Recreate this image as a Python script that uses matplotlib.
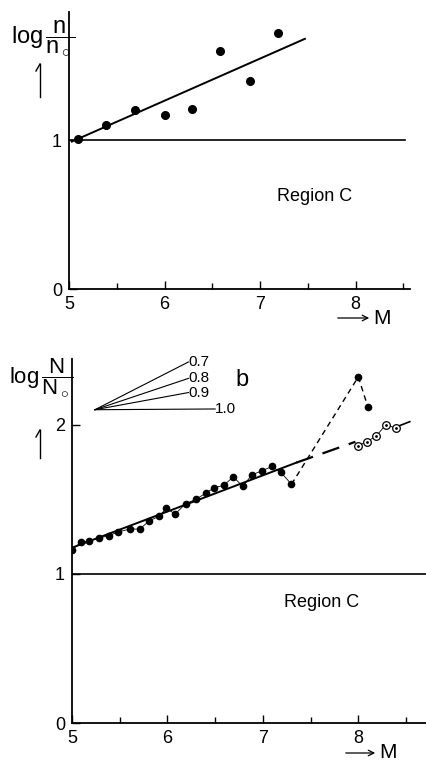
import matplotlib
matplotlib.use('Agg')
import matplotlib.pyplot as plt
from matplotlib.lines import Line2D

plt.rcParams['font.family'] = ['Liberation Sans', 'DejaVu Sans']
plt.rcParams['mathtext.fontset'] = 'custom'
plt.rcParams['mathtext.rm'] = 'Liberation Sans'
plt.rcParams['mathtext.it'] = 'Liberation Sans'

# ---- panel a (upper): log n/n0 against M
m_top = [5.09, 5.39, 5.69, 6.00, 6.29, 6.58, 6.89, 7.19]
n_top = [1.01, 1.10, 1.20, 1.17, 1.21, 1.60, 1.40, 1.72]
fit_top_m = [5.03, 7.47]
fit_top_n = [0.99, 1.68]

# ---- panel b (lower): log N/N0 against M
m_bot = [5.00, 5.09, 5.18, 5.28, 5.385, 5.48, 5.605, 5.71, 5.81, 5.91, 5.99, 6.08,
         6.19, 6.30, 6.40, 6.49, 6.59, 6.69, 6.79, 6.885, 6.99, 7.095, 7.19, 7.30]
N_bot = [1.16, 1.21, 1.22, 1.24, 1.255, 1.28, 1.30, 1.30, 1.355, 1.385, 1.44, 1.40,
         1.47, 1.50, 1.54, 1.577, 1.593, 1.65, 1.586, 1.664, 1.69, 1.72, 1.68, 1.60]
m_jump = [7.30, 8.00, 8.10]
N_jump = [1.60, 2.32, 2.12]
m_open = [8.00, 8.09, 8.19, 8.29, 8.40]
N_open = [1.86, 1.885, 1.925, 2.00, 1.975]
fit_solid_m = [5.00, 7.35]
fit_solid_N = [1.175, 1.745]
fit_dash_m = [7.35, 7.97]
fit_dash_N = [1.745, 1.885]
fit_tail_m = [8.40, 8.54]
fit_tail_N = [1.985, 2.02]

# reference slopes b
fan_labels = ['0.7', '0.8', '0.9', '1.0']
fan_origin = (5.24, 2.10)
fan_end_m = [6.22, 6.22, 6.22, 6.50]
fan_end_N = [2.42, 2.31, 2.215, 2.105]

W, H = 427, 761
fig = plt.figure(figsize=(W / 100, H / 100), dpi=100)


def fx(px):
    return px / W


def fy(py):
    return 1 - py / H


def setup(ax, xmax, ymax, yticks):
    ax.set_xlim(5, xmax)
    ax.set_ylim(0, ymax)
    for s in ['top', 'right']:
        ax.spines[s].set_visible(False)
    for s in ['left', 'bottom']:
        ax.spines[s].set_linewidth(1.3)
    ax.set_xticks([5, 6, 7, 8])
    ax.set_xticks([5.5, 6.5, 7.5, 8.5], minor=True)
    ax.set_yticks(yticks)
    ax.tick_params(axis='both', which='major', direction='in', length=6, width=1,
                   labelsize=13, pad=5)
    ax.tick_params(axis='x', which='minor', direction='in', length=4, width=1)
    ax.patch.set_alpha(0)


# upper panel
ax1 = fig.add_axes([fx(69), fy(289), fx(410) - fx(69), fy(12) - fy(289)])
setup(ax1, 8.57, 1.86, [0, 1])
ax1.plot([5, 8.52], [1, 1], color='black', lw=1.2)
ax1.plot(fit_top_m, fit_top_n, color='black', lw=1.4)
ax1.plot(m_top, n_top, 'o', color='black', ms=5.5)
ax1.text(7.57, 0.62, 'Region C', fontsize=13, ha='center', va='center')

# lower panel
ax2 = fig.add_axes([fx(72), fy(723), fx(427) - fx(72), fy(359) - fy(723)])
setup(ax2, 8.72, 2.44, [0, 1, 2])
ax2.plot([5, 8.72], [1, 1], color='black', lw=1.2)
ax2.plot(fit_solid_m, fit_solid_N, color='black', lw=1.4)
ax2.plot(fit_dash_m, fit_dash_N, color='black', lw=1.6, dashes=(8, 4.5))
ax2.plot(fit_tail_m, fit_tail_N, color='black', lw=1.2)
ax2.plot(m_bot, N_bot, '-', color='black', lw=0.6)
ax2.plot(m_bot, N_bot, 'o', color='black', ms=4.5)
ax2.plot(m_jump, N_jump, color='black', lw=1.0, dashes=(4, 3))
ax2.plot(m_jump[1:], N_jump[1:], 'o', color='black', ms=4.5)
ax2.plot(m_open, N_open, '-', color='black', lw=0.6)
ax2.plot(m_open, N_open, 'o', mfc='white', mec='black', ms=5.5, mew=0.9)
ax2.plot(m_open, N_open, '.', color='black', ms=2)
for lab, xe, ye in zip(fan_labels, fan_end_m, fan_end_N):
    ax2.plot([fan_origin[0], xe], [fan_origin[1], ye], color='black', lw=0.8)
    ax2.text(xe, ye, lab, fontsize=11, ha='left', va='center')
ax2.text(6.71, 2.30, 'b', fontsize=17, ha='left', va='center')
ax2.text(7.62, 0.805, 'Region C', fontsize=13, ha='center', va='center')

# y-axis labels with hand-drawn style arrows
fig.text(fx(11), fy(38), r'$\mathrm{log}\,\dfrac{\mathrm{n}}{\mathrm{n_\circ}}$',
         fontsize=17, ha='left', va='center')
fig.text(fx(9), fy(378), r'$\mathrm{log}\,\dfrac{\mathrm{N}}{\mathrm{N_\circ}}$',
         fontsize=16, ha='left', va='center')
for x0, ytop, ybot in [(40, 64, 97), (40, 430, 458)]:
    fig.add_artist(Line2D([fx(x0), fx(x0)], [fy(ytop), fy(ybot)], color='black', lw=1.0))
    fig.add_artist(Line2D([fx(x0), fx(x0 - 4)], [fy(ytop), fy(ytop + 7)], color='black', lw=1.0))

# x-axis labels: arrow and M
for xa, xb, yy in [(335, 372, 318), (343, 378, 753)]:
    fig.add_artist(plt.Annotation('', xy=(fx(xb), fy(yy)), xytext=(fx(xa), fy(yy)),
                                  xycoords='figure fraction', textcoords='figure fraction',
                                  arrowprops=dict(arrowstyle='->', lw=0.9, color='black')))
    fig.text(fx(xb + 1), fy(yy), 'M', fontsize=15, ha='left', va='center')

fig.savefig('out.png', dpi=100)
